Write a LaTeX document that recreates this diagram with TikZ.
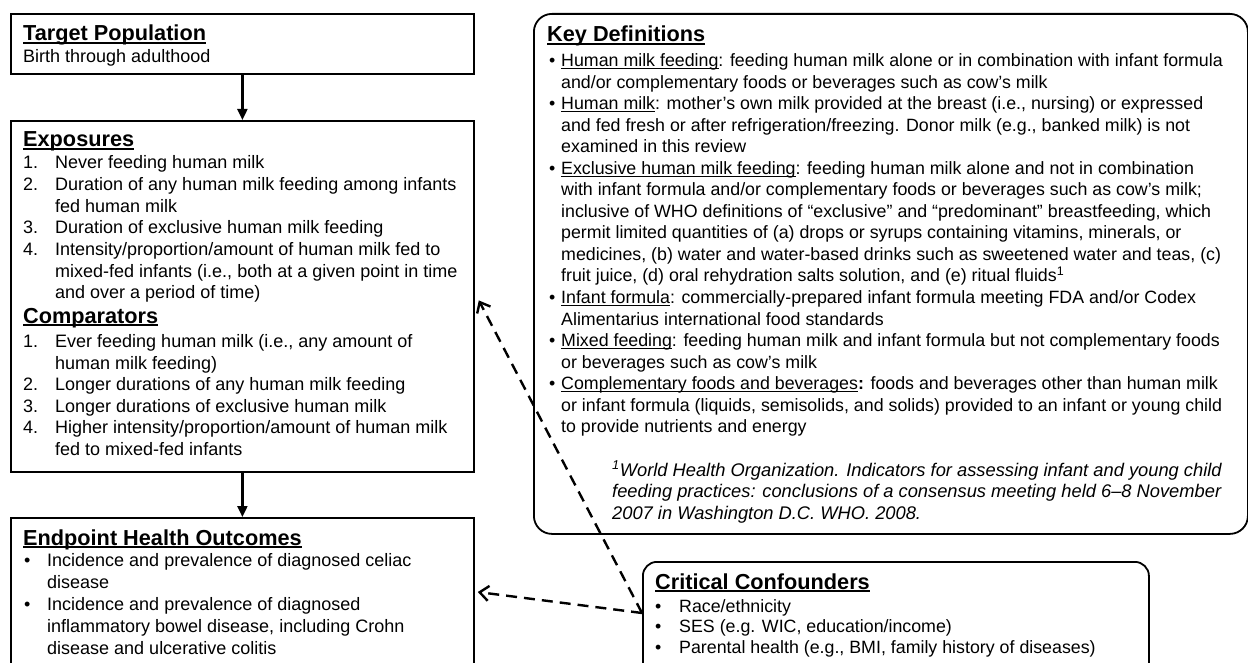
\documentclass[tikz,border=0pt]{standalone}
\usepackage{fontspec}
\setmainfont{Liberation Sans}
\usetikzlibrary{positioning, arrows.meta, calc}
\newcommand{\bodyL}{\fontsize{18}{21.6}\selectfont}
\newcommand{\bodyR}{\fontsize{17.8}{21.5}\selectfont}
\newcommand{\noteR}{\fontsize{18.3}{21.5}\selectfont\itshape}
\newcommand{\headfont}{\fontsize{21.7}{24}\selectfont\bfseries}
\newcommand{\hd}[1]{\setbox0=\hbox{\headfont #1}\rlap{\rule[-2.6pt]{\wd0}{1.5pt}}\box0}
\newcommand{\term}[1]{\setbox0=\hbox{#1}\rlap{\rule[-2.2pt]{\wd0}{1.1pt}}\box0}

\begin{document}
\begin{tikzpicture}[x=1pt, y=-1pt,
    box/.style={draw, line width=1.8pt, inner sep=0, anchor=north west},
    rbox/.style={box, rounded corners=#1},
    txt/.style={anchor=base west, inner sep=0, font=\bodyL},
    rtxt/.style={txt, font=\bodyR},
    solidarr/.style={line width=2.2pt, -{Triangle[length=11pt, width=10pt]}},
    dasharr/.style={line width=2.4pt, dash pattern=on 11pt off 7pt, -{Straight Barb[length=9pt, width=15pt]}}]
    \useasboundingbox (0,0) rectangle (1248,663);
    \clip (0,0) rectangle (1248,663);
    \fill[white] (0,0) rectangle (1248,663);
    % Boxes
    \node[box, minimum width=463pt, minimum height=60pt] (target) at (10,13) {};
    \node[box, minimum width=463pt, minimum height=351pt] (expo) at (10,120) {};
    \node[box, minimum width=463pt, minimum height=180pt] (endp) at (10,517) {};
    \node[rbox=18pt, minimum width=714pt, minimum height=520pt] (keydef) at (533,13) {};
    \node[rbox=14pt, minimum width=506pt, minimum height=140pt] (crit) at (642,561) {};
    % Target population
    \node[txt] (tp0) at (23,41) {\hd{Target Population}};
    \node[txt] (tp1) at (23,63) {Birth through adulthood};
    % Exposures
    \node[txt] (ex0) at (23,147) {\hd{Exposures}};
    \foreach \lab/\words [count=\i] in {
        1./{Never feeding human milk},
        2./{Duration of any human milk feeding among infants},
        {}/{fed human milk},
        3./{Duration of exclusive human milk feeding},
        4./{Intensity/proportion/amount of human milk fed to},
        {}/{mixed-fed infants (i.e., both at a given point in time},
        {}/{and over a period of time)}}
        \node[txt] (ex\i) at (23,{169+21.6*(\i-1)}) {\makebox[32pt][l]{\lab}\words};
    % Comparators
    \node[txt] (cp0) at (23,323) {\hd{Comparators}};
    \foreach \lab/\words [count=\i] in {
        1./{Ever feeding human milk (i.e., any amount of},
        {}/{human milk feeding)},
        2./{Longer durations of any human milk feeding},
        3./{Longer durations of exclusive human milk},
        4./{Higher intensity/proportion/amount of human milk},
        {}/{fed to mixed-fed infants}}
        \node[txt] (cp\i) at (23,{347.5+21.6*(\i-1)}) {\makebox[32pt][l]{\lab}\words};
    % Endpoint health outcomes
    \node[txt] (ep0) at (23,545) {\hd{Endpoint Health Outcomes}};
    \foreach \lab/\words [count=\i] in {
        {\textbullet}/{Incidence and prevalence of diagnosed celiac},
        {}/{disease},
        {\textbullet}/{Incidence and prevalence of diagnosed},
        {}/{inflammatory bowel disease, including Crohn},
        {}/{disease and ulcerative colitis}}
        \node[txt] (ep\i) at (24,{566+22*(\i-1)}) {\makebox[23pt][l]{\lab}\words};
    % Key definitions
    \node[rtxt] (kd0) at (547,42) {\hd{Key Definitions}};
    \foreach \lab/\words [count=\i] in {
        {\textbullet}/{\term{Human milk feeding}: feeding human milk alone or in combination with infant formula},
        {}/{and/or complementary foods or beverages such as cow’s milk},
        {\textbullet}/{\term{Human milk}: mother’s own milk provided at the breast (i.e., nursing) or expressed},
        {}/{and fed fresh or after refrigeration/freezing. Donor milk (e.g., banked milk) is not},
        {}/{examined in this review},
        {\textbullet}/{\term{Exclusive human milk feeding}: feeding human milk alone and not in combination},
        {}/{with infant formula and/or complementary foods or beverages such as cow’s milk;},
        {}/{inclusive of WHO definitions of “exclusive” and “predominant” breastfeeding, which},
        {}/{permit limited quantities of (a) drops or syrups containing vitamins, minerals, or},
        {}/{medicines, (b) water and water-based drinks such as sweetened water and teas, (c)},
        {}/{fruit juice, (d) oral rehydration salts solution, and (e) ritual fluids\textsuperscript{1}},
        {\textbullet}/{\term{Infant formula}: commercially-prepared infant formula meeting FDA and/or Codex},
        {}/{Alimentarius international food standards},
        {\textbullet}/{\term{Mixed feeding}: feeding human milk and infant formula but not complementary foods},
        {}/{or beverages such as cow’s milk},
        {\textbullet}/{\term{Complementary foods and beverages}\textbf{:} foods and beverages other than human milk},
        {}/{or infant formula (liquids, semisolids, and solids) provided to an infant or young child},
        {}/{to provide nutrients and energy}}
        \node[rtxt] (kd\i) at (549,{67+21.5*(\i-1)}) {\makebox[12pt][l]{\lab}\words};
    % Footnote
    \foreach \words [count=\i] in {
        {\textsuperscript{1}World Health Organization. Indicators for assessing infant and young child},
        {feeding practices: conclusions of a consensus meeting held 6--8 November},
        {2007 in Washington D.C. WHO. 2008.}}
        \node[rtxt, font=\noteR] (fn\i) at (612,{476+21.5*(\i-1)}) {\words};
    % Critical confounders
    \node[rtxt] (cc0) at (655,589) {\hd{Critical Confounders}};
    \foreach \words [count=\i] in {
        {Race/ethnicity},
        {SES (e.g. WIC, education/income)},
        {Parental health (e.g., BMI, family history of diseases)}}
        \node[rtxt] (cc\i) at (655,{612+20.5*(\i-1)}) {\makebox[24pt][l]{\textbullet}\words};
    % Connectors
    \draw[solidarr] (target) -- (expo);
    \draw[solidarr] (expo) -- (endp);
    \coordinate (cfx) at ($(crit.north west)+(0,52)$);
    \coordinate (expoin) at ($(expo.east)+(4,4)$);
    \coordinate (endpin) at ($(endp.north east)+(3,75)$);
    \draw[dasharr] (cfx) -- (expoin);
    \draw[dasharr] (cfx) -- (endpin);
\end{tikzpicture}
\end{document}
